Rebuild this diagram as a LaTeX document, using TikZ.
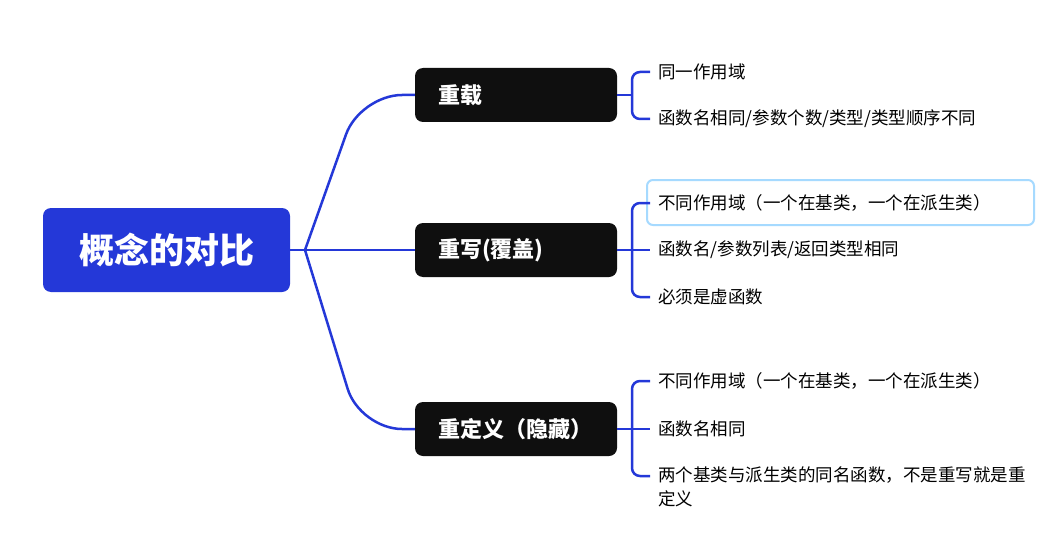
\documentclass[tikz,border=0pt]{standalone}
\usepackage{fontspec}
\setmainfont{Noto Sans CJK SC}
\usetikzlibrary{positioning}
\definecolor{mapblue}{HTML}{2438D8}
\definecolor{topicblack}{HTML}{0F0F0F}
\definecolor{hiliteblue}{HTML}{A6DAFF}

\begin{document}
\begin{tikzpicture}[
    x=1pt, y=-1pt,
    concept/.style={rectangle, fill=mapblue, text=white, rounded corners=8pt, minimum width=247pt, minimum height=84pt, font=\fontsize{35}{40}\selectfont\bfseries},
    topic/.style={rectangle, fill=topicblack, text=white, rounded corners=8pt, minimum width=202pt, minimum height=54pt, text width=156pt, inner xsep=23pt, align=left, font=\fontsize{22}{26}\selectfont\bfseries},
    leaf/.style={anchor=west, inner sep=0pt, align=left, font=\fontsize{17.5}{24}\selectfont},
    link/.style={draw=mapblue, line width=2.5pt},
    bracket/.style={link, rounded corners=8pt}
]
    \fill[white] (0,0) rectangle (1049,559);
    \useasboundingbox (0,0) rectangle (1049,559);

    \node[concept] (compare) at (166.5,250) {概念的对比};
    \coordinate (fork) at (305,250);

    \node[topic] (overload) at (516,95) {重载};
    \node[topic] (override) at (516,250) {重写(覆盖)};
    \node[topic] (redefine) at (516,429) {重定义（隐藏）};

    \draw[link] (compare.east) -- (fork);
    \draw[link, rounded corners=42pt] (fork) -- (360,95) -- (overload.west);
    \draw[link] (fork) -- (override.west);
    \draw[link, rounded corners=42pt] (fork) -- (360,429) -- (redefine.west);

    % 重载
    \node[leaf] (o1) at (658,72) {同一作用域};
    \node[leaf] (o2) at (658,119) {函数名相同/参数个数/类型/类型顺序不同};
    \draw[link] (overload.east) -- ++(15pt,0pt);
    \draw[bracket] ([xshift=-8pt]o1.west) -| ([xshift=-26pt]o2.west) -- ([xshift=-8pt]o2.west);

    % 重写
    \draw[hiliteblue, line width=2pt, rounded corners=6pt] (647,180) rectangle (1034,225);
    \node[leaf] (r1) at (658,203) {不同作用域（一个在基类，一个在派生类）};
    \node[leaf] (r2) at (658,250) {函数名/参数列表/返回类型相同};
    \node[leaf] (r3) at (658,297) {必须是虚函数};
    \draw[link] (override.east) -- ([xshift=-8pt]r2.west);
    \draw[bracket] ([xshift=-8pt]r1.west) -| ([xshift=-26pt]r3.west) -- ([xshift=-8pt]r3.west);

    % 重定义
    \node[leaf] (d1) at (658,381) {不同作用域（一个在基类，一个在派生类）};
    \node[leaf] (d2) at (658,429) {函数名相同};
    \node[leaf, anchor=north west] (d3) at (658,467) {两个基类与派生类的同名函数，不是重写就是重\\定义};
    \draw[link] (redefine.east) -- ([xshift=-8pt]d2.west);
    \draw[bracket] ([xshift=-8pt]d1.west) -| ([shift={(-26pt,-9pt)}]d3.north west) -- ([shift={(-8pt,-9pt)}]d3.north west);
\end{tikzpicture}
\end{document}
